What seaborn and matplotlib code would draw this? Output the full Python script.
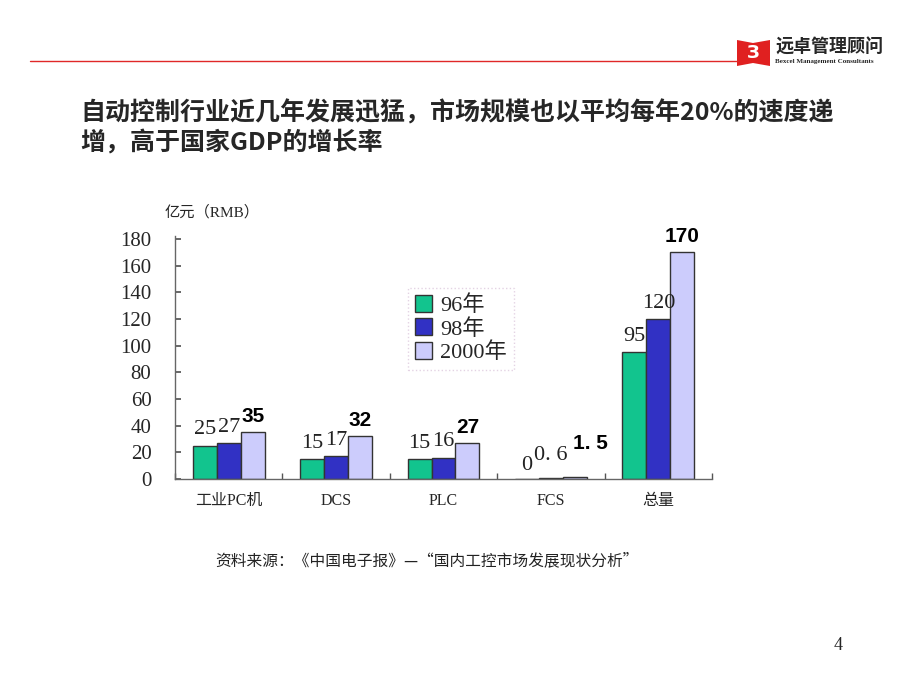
import numpy as np
import pandas as pd
import matplotlib
matplotlib.use("Agg")
import matplotlib.pyplot as plt
import seaborn as sns
from matplotlib.patches import Polygon
from matplotlib.lines import Line2D

categories = ["工业PC机", "DCS", "PLC", "FCS", "总量"]
years = ["96年", "98年", "2000年"]
values_96 = [25, 15, 15, 0, 95]
values_98 = [27, 17, 16, 0.6, 120]
values_2000 = [35, 32, 27, 1.5, 170]
labels_96 = ["25", "15", "15", "0", "95"]
labels_98 = ["27", "17", "16", "0. 6", "120"]
labels_2000 = ["35", "32", "27", "1. 5", "170"]
y_ticks = [0, 20, 40, 60, 80, 100, 120, 140, 160, 180]

colors = ["#12C48E", "#3131C4", "#CCCCFC"]
SERIF = ["Liberation Serif", "Noto Sans CJK SC"]
CJK = ["Noto Sans CJK SC", "DejaVu Sans"]

df = pd.DataFrame({
    "类别": categories * 3,
    "年份": [y for y in years for _ in categories],
    "值": values_96 + values_98 + values_2000,
})

sns.set_theme(style="white")
plt.rcParams["font.family"] = CJK

fig = plt.figure(figsize=(9.2, 6.9), dpi=100)
ax = fig.add_axes([175 / 920, 1 - 479 / 690, (712 - 175) / 920, (479 - 239) / 690])

sns.barplot(data=df, x="类别", y="值", hue="年份", order=categories,
            hue_order=years, palette=colors, width=0.67, edgecolor="#333333",
            linewidth=1.0, saturation=1, ax=ax, legend=True)

ax.set_ylim(0, 180)
ax.set_xlim(-0.5, 4.5)
ax.set_yticks(y_ticks)
ax.set_yticklabels([str(t) for t in y_ticks], family=SERIF, fontsize=15)
ax.set_xlabel("")
ax.set_ylabel("")
ax.set_xticks(np.arange(len(categories)))
ax.set_xticklabels(categories, family=SERIF, fontsize=11.5)
ax.tick_params(axis="x", length=0, pad=10)
ax.tick_params(axis="y", direction="in", length=4, pad=17, color="#555555", left=True)
ax.set_xticks(np.arange(len(categories) + 1) - 0.5, minor=True)
ax.tick_params(axis="x", which="minor", direction="in", length=4, color="#555555", bottom=True)
for s in ["top", "right"]:
    ax.spines[s].set_visible(False)
for s in ["left", "bottom"]:
    ax.spines[s].set_color("#666666")
    ax.spines[s].set_linewidth(1.0)
ax.spines["left"].set_bounds(0, 182)

# value labels (FCS labels are nudged like in the original slide)
label_sets = [labels_96, labels_98, labels_2000]
nudge = {(3, 0): (0, -1.5), (3, 1): (0, 5), (3, 2): (11, 12.5)}
for hi, cont in enumerate(ax.containers):
    for ci, bar in enumerate(cont):
        x = bar.get_x() + bar.get_width() / 2
        h = bar.get_height()
        dx, dy = nudge.get((ci, hi), (0, 0))
        if hi == 2:
            kw = dict(family=["Liberation Sans"], fontsize=15, fontweight="bold", color="black")
        else:
            kw = dict(family=SERIF, fontsize=16, color="#222222")
        ax.annotate(label_sets[hi][ci], (x, h), xytext=(dx, 11.5 + dy), textcoords="offset points",
                    ha="center", va="center", **kw)

leg = ax.legend(loc="upper left", bbox_to_anchor=(408 / 920, 1 - 288 / 690),
                bbox_transform=fig.transFigure, frameon=True, fancybox=False,
                borderaxespad=0, prop={"family": SERIF, "size": 16}, handlelength=0.8,
                handleheight=0.8, handletextpad=0.35, labelspacing=0.11, borderpad=0.3)
leg.get_frame().set_edgecolor("#DDC8DD")
leg.get_frame().set_linestyle(":")
leg.get_frame().set_linewidth(1.0)

fig.text(165 / 920, 1 - 212 / 690, "亿元（RMB）", family=SERIF, fontsize=11, va="center", ha="left")

# title
fig.text(80 / 920, 1 - 113 / 690, "自动控制行业近几年发展迅猛，市场规模也以平均每年20%的速度递",
         family=CJK, fontsize=18, fontweight="bold", va="center", ha="left")
fig.text(80 / 920, 1 - 143 / 690, "增，高于国家GDP的增长率",
         family=CJK, fontsize=18, fontweight="bold", va="center", ha="left")

# source
fig.text(215 / 920, 1 - 561 / 690, "资料来源：《中国电子报》—“国内工控市场发展现状分析”",
         family=CJK, fontsize=11.3, va="center", ha="left", color="#222222")

# page number
fig.text(838 / 920, 1 - 645 / 690, "4", family=SERIF, fontsize=13, va="center", ha="center")

# header line and logo
fig.add_artist(Line2D([30 / 920, 738 / 920], [1 - 61 / 690, 1 - 61 / 690], color="#E02828", lw=1.0))
fig.add_artist(Polygon([[737 / 920, 1 - 40 / 690], [753 / 920, 1 - 43 / 690], [770 / 920, 1 - 40 / 690],
                        [770 / 920, 1 - 66 / 690], [753 / 920, 1 - 63 / 690], [737 / 920, 1 - 66 / 690]],
                       closed=True, facecolor="#E02020", edgecolor="none"))
fig.text(753 / 920, 1 - 53 / 690, "З", color="white", fontsize=13, fontweight="bold",
         ha="center", va="center", family=["DejaVu Sans"])
fig.text(775 / 920, 1 - 47 / 690, "远卓管理顾问", family=CJK, fontsize=13, fontweight="bold",
         va="center", ha="left")
fig.text(775 / 920, 1 - 62 / 690, "Bexcel Management Consultants", family=SERIF, fontsize=5,
         fontweight="bold", va="center", ha="left")

fig.savefig("out.png", dpi=100, facecolor="white")
